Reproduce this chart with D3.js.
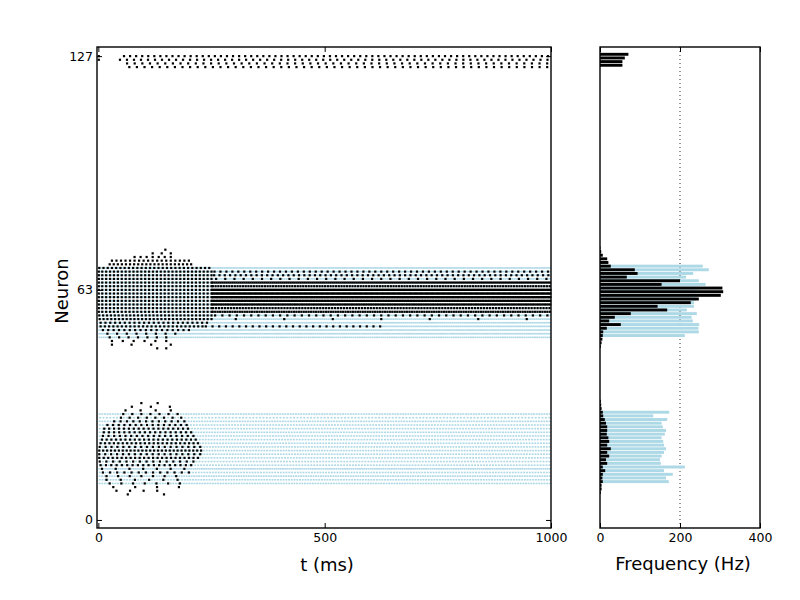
<!DOCTYPE html>
<html><head><meta charset="utf-8">
<script src="https://cdn.jsdelivr.net/npm/d3@7"></script>
<style>
body{margin:0;background:#fff;}
text{font-family:"DejaVu Sans",sans-serif;}
</style></head>
<body><svg id="c" width="800" height="600"></svg>
<script>
// ---- data ----
// input ("light blue") neurons and their firing rates (Hz)
const blueNeurons = [10,11,12,13,14,15,16,17,18,19,20,21,22,23,24,25,26,27,28,29,
                     50,51,52,53,54,55,56,57,58,59,60,61,62,63,64,65,66,67,68,69];
const blueHz = [172,165,182,160,212,152,150,154,160,165,160,158,154,162,165,157,154,168,133,173,
                212,247,246,248,232,229,242,217,235,235,240,245,238,250,264,247,215,233,272,257];

// network ("black") neurons, total rates (Hz), initial burst window (ms), burst spike count, end of sustained firing (ms)
const blackNeurons = [7,8,9,10,11,12,13,14,15,16,17,18,19,20,21,22,23,24,25,26,27,28,29,30,31,32,
                      47,48,49,50,51,52,53,54,55,56,57,58,59,60,61,62,63,64,65,66,67,68,69,70,71,72,73,74,
                      124,125,126,127];
const blackHz = [2,4,4,7,6,7,13,7,18,15,23,18,27,18,23,21,17,18,18,15,12,8,7,4,3,2,
                 2,4,6,7,8,17,52,23,37,77,168,144,227,247,302,308,306,154,200,67,94,87,27,21,18,7,3,1,
                 56,56,62,71];
const burstOn = [65,40,33,25,18,18,10,8,5,3,2,2,2,3,5,8,10,12,13,20,35,50,55,60,74,95,
                 130,30,30,25,20,10,5,5,3,2,0,0,0,0,0,0,0,0,0,0,0,0,2,25,30,80,120,148,
                 60,55,40,50];
const burstOff = [145,130,178,180,175,172,200,190,205,210,220,225,227,225,220,215,210,205,198,195,190,183,175,160,158,131,
                  150,160,150,150,170,200,230,240,250,250,250,250,250,250,250,250,250,250,250,250,250,250,245,205,200,160,160,148,
                  60,55,40,50];
const burstCount = [2,4,4,7,6,7,13,7,18,15,23,18,27,18,23,21,17,18,18,15,12,8,7,4,3,2,
                    2,4,6,7,8,17,25,23,30,30,30,30,30,30,30,30,30,30,30,30,30,30,27,21,18,7,3,1,
                    0,0,0,0];
const sustainEnd = [1000,1000,1000,1000,1000,1000,1000,1000,1000,1000,1000,1000,1000,1000,1000,1000,1000,1000,1000,1000,1000,1000,1000,1000,1000,1000,
                    1000,1000,1000,1000,1000,1000,630,1000,1000,1000,1000,1000,1000,1000,1000,1000,1000,1000,1000,1000,1000,1000,1000,1000,1000,1000,1000,1000,
                    1000,1000,1000,1000];
// isolated onset spikes at t = 0 (top group)
const onsetNeurons = [127,126];
const onsetTimes = [0,0];

const xTicks = [0,500,1000];
const yTicks = [0,63,127];
const fTicks = [0,200,400];

// ---- layout ----
const svg = d3.select("#c");
const M = {l:97, r:551, t:47, b:528};
const H = {l:600, r:760};
const x = d3.scaleLinear().domain([-3,1000]).range([M.l, M.r]);
const y = d3.scaleLinear().domain([-2.2,129.5]).range([M.b, M.t]);
const f = d3.scaleLinear().domain([0,400]).range([H.l, H.r]);

// spike trains
function regular(on, off, n){ const a=[]; for(let k=0;k<n;k++) a.push(n>1? on + k*(off-on)/(n-1) : on); return a; }
const blueSpikes = [];
blueNeurons.forEach((nr,i)=>{
  const n = blueHz[i], p = 1000/n;
  for(let k=0;k<n;k++) blueSpikes.push({t:(k+0.5)*p, n:nr});
});
const blackSpikes = [];
blackNeurons.forEach((nr,i)=>{
  regular(burstOn[i], burstOff[i], burstCount[i]).forEach(t=>blackSpikes.push({t, n:nr}));
  const m = blackHz[i]-burstCount[i];
  if(m>0){ const p=(sustainEnd[i]-burstOff[i])/m; for(let k=0;k<m;k++) blackSpikes.push({t:burstOff[i]+(k+0.5)*p, n:nr}); }
});
onsetNeurons.forEach((nr,i)=>blackSpikes.push({t:onsetTimes[i], n:nr}));

// raster
const gR = svg.append("g");
gR.selectAll("rect.b").data(blueSpikes).join("rect").attr("class","b")
  .attr("x",d=>x(d.t)-0.95).attr("y",d=>y(d.n)-0.8).attr("width",1.9).attr("height",1.6).attr("fill","#add8e6");
gR.selectAll("rect.k").data(blackSpikes).join("rect").attr("class","k")
  .attr("x",d=>Math.max(M.l+0.7, x(d.t)-1.1)).attr("y",d=>y(d.n)-1.1).attr("width",2.2).attr("height",2.2).attr("fill","#000");

// histogram
const gH = svg.append("g");
gH.append("line").attr("x1",f(200)).attr("x2",f(200)).attr("y1",M.t).attr("y2",M.b)
  .attr("stroke","#000").attr("stroke-width",0.8).attr("stroke-dasharray","1,3");
gH.selectAll("rect.b").data(blueNeurons).join("rect").attr("class","b")
  .attr("x",f(0)).attr("y",d=>y(d+0.9)).attr("height",d=>y(d+0.1)-y(d+0.9))
  .attr("width",(d,i)=>f(blueHz[i])-f(0)).attr("fill","#add8e6");
gH.selectAll("rect.k").data(blackNeurons).join("rect").attr("class","k")
  .attr("x",f(0)).attr("y",d=>y(d+0.9)).attr("height",d=>y(d+0.1)-y(d+0.9))
  .attr("width",(d,i)=>f(blackHz[i])-f(0)).attr("fill","#000");

// axes
const fmt = d3.format("d");
function styleAxis(g){ g.select(".domain").remove(); g.selectAll("text").attr("font-size",12.5).attr("fill","#000").attr("font-family","DejaVu Sans"); g.selectAll("line").attr("stroke","#000"); }
svg.append("g").attr("transform",`translate(0,${M.b})`).call(d3.axisBottom(x).tickValues(xTicks).tickFormat(fmt).tickSize(-5).tickPadding(5)).call(styleAxis);
svg.append("g").attr("transform",`translate(0,${M.t})`).call(d3.axisTop(x).tickValues(xTicks).tickSize(-5).tickFormat("")).call(styleAxis);
svg.append("g").attr("transform",`translate(${M.l},0)`).call(d3.axisLeft(y).tickValues(yTicks).tickFormat(fmt).tickSize(-5).tickPadding(4)).call(styleAxis);
svg.append("g").attr("transform",`translate(${M.r},0)`).call(d3.axisRight(y).tickValues(yTicks).tickSize(-5).tickFormat("")).call(styleAxis);
svg.append("g").attr("transform",`translate(0,${M.b})`).call(d3.axisBottom(f).tickValues(fTicks).tickFormat(fmt).tickSize(-5).tickPadding(5)).call(styleAxis);
svg.append("g").attr("transform",`translate(0,${M.t})`).call(d3.axisTop(f).tickValues(fTicks).tickSize(-5).tickFormat("")).call(styleAxis);

// frames
svg.append("rect").attr("x",M.l).attr("y",M.t).attr("width",M.r-M.l).attr("height",M.b-M.t).attr("fill","none").attr("stroke","#000").attr("stroke-width",1.4);
svg.append("rect").attr("x",H.l).attr("y",M.t).attr("width",H.r-H.l).attr("height",M.b-M.t).attr("fill","none").attr("stroke","#000").attr("stroke-width",1.4);

// labels
svg.append("text").attr("x",327).attr("y",571).attr("text-anchor","middle").attr("font-size",18).text("t (ms)");
svg.append("text").attr("x",683).attr("y",570).attr("text-anchor","middle").attr("font-size",18).text("Frequency (Hz)");
svg.append("text").attr("transform","translate(68,291) rotate(-90)").attr("text-anchor","middle").attr("font-size",18).text("Neuron");
</script></body></html>
